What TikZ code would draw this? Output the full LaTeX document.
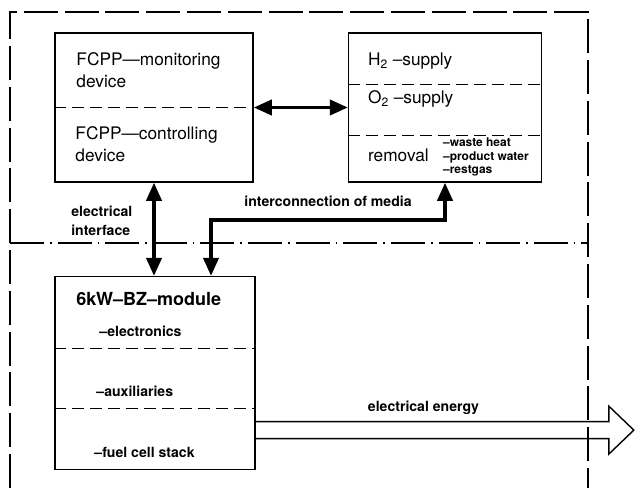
\documentclass[tikz,border=0pt]{standalone}
\usepackage{fontspec}
\setmainfont{TeX Gyre Heros}
\usetikzlibrary{arrows.meta,positioning,calc}

\begin{document}
\begin{tikzpicture}[
  x=0.025cm, y=-0.025cm,
  box/.style={draw, line width=1.1pt, inner sep=0pt},
  divider/.style={line width=0.7pt, dash pattern=on 0.3cm off 0.15cm},
  frame/.style={line width=0.8pt, dash pattern=on 0.85cm off 0.17cm},
  border/.style={line width=0.8pt, dash pattern=on 0.85cm off 0.15cm on 0.04cm off 0.15cm},
  link/.style={line width=2.4pt, {Triangle[length=0.45cm,width=0.38cm]}-{Triangle[length=0.45cm,width=0.38cm]}},
  energy/.style={line width=1pt},
  boxtext/.style={anchor=west, inner sep=0pt, align=left, font=\fontsize{12.3}{15}\selectfont},
  parttext/.style={anchor=west, inner sep=0pt, align=left, font=\fontsize{10}{12}\selectfont\bfseries},
  smalltext/.style={anchor=west, inner sep=0pt, align=left, font=\fontsize{8.5}{9.6}\selectfont\bfseries},
  tag/.style={inner sep=0pt, align=left, font=\fontsize{10}{14}\selectfont\bfseries},
]
\useasboundingbox (0,0) rectangle (635,488);

% outer frame (open at the bottom) and the split line
\draw[frame] (10,488) -- (10,12) -- (588,12) -- (588,488);
\draw[border] (10,243) -- (588,243);

% boxes
\node[box, minimum width=4.95cm, minimum height=3.725cm] (fcpp) at (154,107.5) {};
\node[box, minimum width=4.825cm, minimum height=3.725cm, right=2.35cm of fcpp] (media) {};
\node[box, minimum width=5cm, minimum height=4.825cm, below right=2.325cm and 0cm of fcpp.south west] (module) {};

\draw[divider] (fcpp.west) -- (fcpp.east);
\draw[divider] ($(media.north west)!0.35!(media.south west)$) -- ($(media.north east)!0.35!(media.south east)$);
\draw[divider] ($(media.north west)!0.685!(media.south west)$) -- ($(media.north east)!0.685!(media.south east)$);
\draw[divider] ($(module.north west)!0.373!(module.south west)$) -- ($(module.north east)!0.373!(module.south east)$);
\draw[divider] ($(module.north west)!0.684!(module.south west)$) -- ($(module.north east)!0.684!(module.south east)$);

% box texts
\node[boxtext] (monitor) at ([shift={(22,38)}]fcpp.north west) {FCPP---monitoring\\device};
\node[boxtext] (control) at ([shift={(21,112)}]fcpp.north west) {FCPP---controlling\\device};
\node[boxtext] (htwo) at ([shift={(20,29)}]media.north west) {H\textsubscript{2} --supply};
\node[boxtext] (otwo) at ([shift={(20,67)}]media.north west) {O\textsubscript{2} --supply};
\node[boxtext] (removal) at ([shift={(20,123)}]media.north west) {removal};
\node[smalltext] (rest) at ([shift={(95,125)}]media.north west) {--waste heat\\--product water\\--restgas};
\node[boxtext, font=\fontsize{12.8}{15}\selectfont\bfseries] (title) at ([shift={(22,23)}]module.north west) {6kW--BZ--module};
\node[parttext] (electronics) at ([shift={(45,55)}]module.north west) {--electronics};
\node[parttext] (aux) at ([shift={(42,115)}]module.north west) {--auxiliaries};
\node[parttext] (stack) at ([shift={(40,177)}]module.north west) {--fuel cell stack};

% connections
\coordinate (bendL) at (211,220);
\coordinate (bendR) at (445,220);
\draw[link] (fcpp.east) -- (fcpp.east -| media.west);
\draw[link] (fcpp.south) -- (fcpp.south |- module.north)
  node[tag, pos=0.41, left=0.5cm] {electrical\\interface};
\draw[link] (bendL |- module.north) -- (bendL) -- (bendR)
  node[tag, midway, above=0.3cm] {interconnection of media} -- (bendR |- media.south);

% electrical energy output
\draw[energy] ([shift={(0,48.5)}]module.east) -- ++(353,0)
  node[tag, pos=0.475, above=0.17cm] {electrical energy}
  -- ++(0,-15.5) -- ++(25,24) -- ++(-25,24) -- ++(0,-15.5) -- ([shift={(0,65.5)}]module.east);
\end{tikzpicture}
\end{document}
